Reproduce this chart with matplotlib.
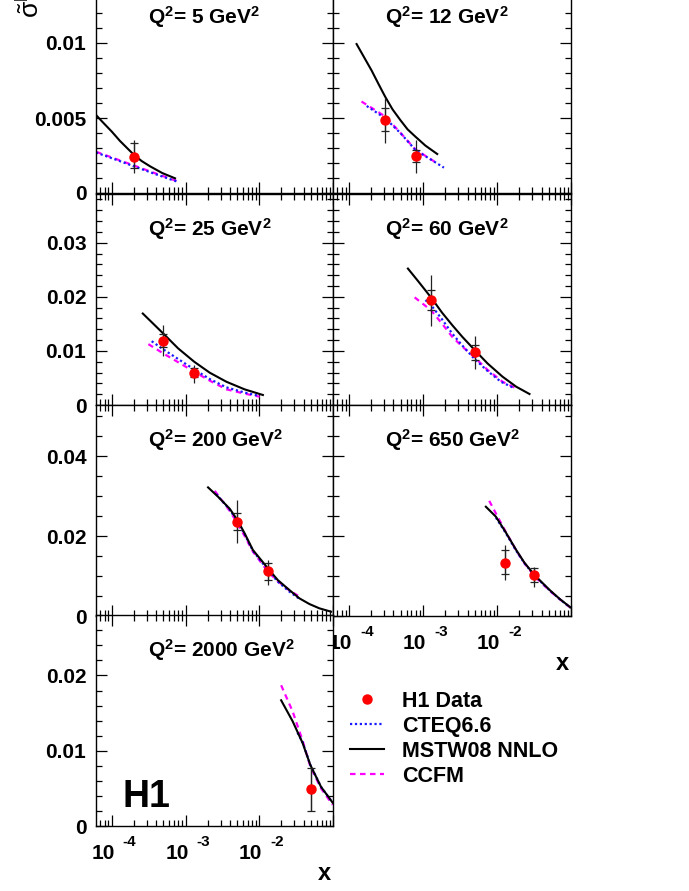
import numpy as np
import matplotlib
matplotlib.use("Agg")
import matplotlib.pyplot as plt
import matplotlib.transforms as mtrans
from matplotlib.ticker import MultipleLocator, NullFormatter, FixedLocator
from matplotlib.lines import Line2D

plt.rcParams['font.family'] = ['Liberation Sans', 'DejaVu Sans']
plt.rcParams['font.weight'] = 'bold'
plt.rcParams['mathtext.default'] = 'regular'

# panel titles, Q^2 in GeV^2
q2_values = ['5', '12', '25', '60', '200', '650', '2000']
panel_pos = [(0, 0), (0, 1), (1, 0), (1, 1), (2, 0), (2, 1), (3, 0)]

# y axis per row
row_ymax = [0.0141, 0.0391, 0.0529, 0.0281]
row_yticks = [[0, 0.005, 0.01], [0, 0.01, 0.02, 0.03], [0, 0.02, 0.04], [0, 0.01, 0.02]]
row_ylabels = [['0', '0.005', '0.01'], ['0', '0.01', '0.02', '0.03'],
               ['0', '0.02', '0.04'], ['0', '0.01', '0.02']]
row_yminor = [0.001, 0.002, 0.005, 0.002]
x_exps = [-4, -3, -2]

# H1 data: x, value, stat error ends, total error ends
h1_x = [[2e-4], [3.1e-4, 8e-4], [5e-4, 1.3e-3], [1.3e-3, 5e-3],
        [5e-3, 1.3e-2], [1.3e-2, 3.2e-2], [5e-2]]
h1_y = [[0.00242], [0.00487, 0.00247], [0.01186, 0.00596], [0.0194, 0.00972],
        [0.02358, 0.01133], [0.0133, 0.01025], [0.0049]]
stat_lo = [[0.00165], [0.0041, 0.00205], [0.01076, 0.0051], [0.0175, 0.0084],
           [0.0215, 0.009], [0.0105, 0.0086], [0.00204]]
stat_hi = [[0.00335], [0.00565, 0.00287], [0.0131, 0.0069], [0.0212, 0.0111],
           [0.0257, 0.0132], [0.0165, 0.0119], [0.0077]]
tot_lo = [[0.00133], [0.0033, 0.00135], [0.00904, 0.0040], [0.01457, 0.0066],
          [0.0182, 0.00775], [0.009, 0.0073], [0.00204]]
tot_hi = [[0.00353], [0.0063, 0.00353], [0.01476, 0.00738], [0.024, 0.0127],
          [0.029, 0.014], [0.01775, 0.0123], [0.0077]]

# MSTW08 NNLO
mstw_x = [[6.1e-5, 7.7e-5, 1e-4, 1.29e-4, 1.96e-4, 2.54e-4, 3.3e-4, 4.83e-4, 7.2e-4],
          [1.27e-4, 1.57e-4, 2.03e-4, 2.51e-4, 3.09e-4, 3.88e-4, 4.94e-4, 6.21e-4,
           7.9e-4, 1.08e-3, 1.56e-3],
          [2.63e-4, 3.47e-4, 4.98e-4, 7.94e-4, 1.31e-3, 2.13e-3, 3.58e-3, 6.33e-3, 1.12e-2],
          [6.27e-4, 8.77e-4, 1.29e-3, 1.82e-3, 2.49e-3, 3.4e-3, 4.91e-3, 7.45e-3,
           1.19e-2, 1.82e-2, 2.75e-2],
          [2.02e-3, 2.76e-3, 3.97e-3, 5.05e-3, 6.33e-3, 8.2e-3, 1.31e-2, 1.78e-2,
           2.56e-2, 3.5e-2, 4.78e-2, 6.53e-2, 9.4e-2],
          [7.08e-3, 9.68e-3, 1.3e-2, 1.82e-2, 2.35e-2, 3.21e-2, 5.15e-2, 7.05e-2, 9.8e-2],
          [1.98e-2, 2.84e-2, 3.88e-2, 4.93e-2, 6.88e-2, 9.9e-2]]
mstw_y = [[0.0052, 0.00467, 0.00409, 0.00347, 0.00258, 0.00213, 0.00178, 0.00133, 0.00098],
          [0.00993, 0.00913, 0.00816, 0.00727, 0.00642, 0.00558, 0.00487, 0.00424,
           0.00376, 0.00316, 0.0026],
          [0.01691, 0.01531, 0.01322, 0.01046, 0.0080, 0.00597, 0.0043, 0.00289, 0.00185],
          [0.02522, 0.02276, 0.01986, 0.01704, 0.01476, 0.01261, 0.01027, 0.00769,
           0.00523, 0.00338, 0.00203],
          [0.03217, 0.02983, 0.02683, 0.024, 0.02067, 0.0165, 0.01192, 0.009,
           0.0065, 0.00442, 0.003, 0.00192, 0.00108],
          [0.02733, 0.02483, 0.02108, 0.0165, 0.01333, 0.01025, 0.0065, 0.00425, 0.00217],
          [0.0167, 0.0139, 0.0110, 0.0081, 0.0052, 0.0031]]

# CTEQ6.6
cteq_x = [[6.1e-5, 1e-4, 2e-4, 4e-4, 8.1e-4],
          [1.74e-4, 3.1e-4, 5e-4, 7.9e-4, 1.92e-3],
          [3.47e-4, 5e-4, 1.31e-3, 2.13e-3, 3.58e-3, 6.33e-3, 1.01e-2],
          [1.08e-3, 1.29e-3, 1.82e-3, 2.49e-3, 3.4e-3, 4.91e-3, 7.45e-3, 1.13e-2, 1.72e-2],
          [2.6e-3, 3.97e-3, 5.05e-3, 6.33e-3, 8.2e-3, 1.31e-2, 1.78e-2, 2.56e-2, 3.5e-2],
          [9.68e-3, 1.3e-2, 1.82e-2, 2.35e-2, 3.21e-2, 5.15e-2, 7.05e-2, 9.8e-2],
          [3.3e-2, 3.88e-2, 4.93e-2, 6.88e-2, 9.9e-2]]
cteq_y = [[0.0027, 0.00232, 0.00178, 0.00124, 0.00072],
          [0.0058, 0.00498, 0.00398, 0.00287, 0.00169],
          [0.0118, 0.01027, 0.00658, 0.0048, 0.00326, 0.0023, 0.00166],
          [0.0194, 0.01845, 0.0158, 0.0132, 0.0110, 0.0086, 0.0063, 0.0043, 0.0031],
          [0.0305, 0.0266, 0.0237, 0.0204, 0.0163, 0.0115, 0.0086, 0.0061, 0.0043],
          [0.0246, 0.0209, 0.0163, 0.0132, 0.0101, 0.0064, 0.0042, 0.0021],
          [0.0124, 0.0111, 0.0081, 0.0052, 0.0031]]

# CCFM
ccfm_x = [[6.1e-5, 1e-4, 2e-4, 4e-4, 7.8e-4],
          [1.48e-4, 3.1e-4, 5e-4, 7.9e-4, 1.56e-3],
          [3.13e-4, 5e-4, 1.31e-3, 2.13e-3, 3.58e-3, 6.33e-3, 1.01e-2],
          [7.73e-4, 1.29e-3, 1.82e-3, 2.49e-3, 3.4e-3, 4.91e-3, 7.45e-3, 1.19e-2, 1.9e-2],
          [2.49e-3, 3.97e-3, 5.05e-3, 6.33e-3, 8.2e-3, 1.31e-2, 1.78e-2, 2.56e-2, 3.7e-2],
          [7.86e-3, 1.3e-2, 1.82e-2, 2.35e-2, 3.21e-2, 5.15e-2, 7.05e-2, 9.8e-2],
          [1.98e-2, 2.84e-2, 3.88e-2, 4.93e-2, 6.88e-2, 9.9e-2]]
ccfm_y = [[0.00275, 0.00237, 0.00183, 0.00129, 0.00078],
          [0.0061, 0.0051, 0.0040, 0.0029, 0.00198],
          [0.01125, 0.00953, 0.00615, 0.0045, 0.0029, 0.0021, 0.00154],
          [0.0199, 0.0175, 0.0150, 0.0126, 0.0108, 0.0089, 0.0065, 0.0043, 0.00295],
          [0.0313, 0.0263, 0.0232, 0.0200, 0.0161, 0.0111, 0.0087, 0.0064, 0.0046],
          [0.0288, 0.0212, 0.0164, 0.0132, 0.0100, 0.0063, 0.0042, 0.0021],
          [0.0187, 0.0152, 0.0113, 0.0079, 0.0050, 0.0028]]

W, H = 689, 891
fig = plt.figure(figsize=(W / 100, H / 100), dpi=100)

col_left = [96, 333]
col_width = [237, 238]
row_bottom = [193, 405, 616, 826]
row_height = 211.5

FS = 15

# log minor ticks 2..9 in every decade
x_minor = [k * 10.0 ** e for e in range(-5, 0) for k in range(2, 10)]


def x_tick_labels(ax):
    trans = mtrans.blended_transform_factory(ax.transData, ax.transAxes)
    for e in x_exps:
        t1 = mtrans.offset_copy(trans, fig=fig, x=3, y=-18, units='dots')
        ax.text(10.0 ** e, 0, '10', transform=t1, ha='right', va='top', fontsize=15)
        t2 = mtrans.offset_copy(trans, fig=fig, x=11, y=-9, units='dots')
        ax.text(10.0 ** e, 0, '-%d' % (-e), transform=t2, ha='left', va='top', fontsize=11)


for i, (r, c) in enumerate(panel_pos):
    rect = [col_left[c] / W, 1 - row_bottom[r] / H, col_width[c] / W, row_height / H]
    ax = fig.add_axes(rect)
    ax.set_xscale('log')
    ax.set_xlim(6.1e-5, 0.1)
    ax.set_ylim(0, row_ymax[r])

    ax.plot(ccfm_x[i], ccfm_y[i], color='#ff00ff', lw=1.6, ls=(0, (2.5, 2)))
    ax.plot(cteq_x[i], cteq_y[i], color='#1a1aff', lw=1.6, ls=(0, (1, 1.2)))
    ax.plot(mstw_x[i], mstw_y[i], color='black', lw=1.5)

    y = np.array(h1_y[i])
    ax.errorbar(h1_x[i], y, yerr=[y - np.array(tot_lo[i]), np.array(tot_hi[i]) - y],
                fmt='none', ecolor='#222222', elinewidth=0.9, capsize=0)
    ax.errorbar(h1_x[i], y, yerr=[y - np.array(stat_lo[i]), np.array(stat_hi[i]) - y],
                fmt='none', ecolor='#222222', elinewidth=0.9, capsize=3.2, capthick=0.9)
    ax.plot(h1_x[i], y, 'o', color='red', ms=6.5, mec='red', zorder=5)

    ax.set_yticks(row_yticks[r], row_ylabels[r] if c == 0 else [])
    ax.yaxis.set_minor_locator(MultipleLocator(row_yminor[r]))
    ax.set_xticks([10.0 ** e for e in range(-4, 0)], [])
    ax.xaxis.set_minor_locator(FixedLocator(x_minor))
    ax.xaxis.set_minor_formatter(NullFormatter())
    ax.tick_params(which='both', direction='in', top=True, right=True, width=0.9,
                   labelsize=FS, pad=7)
    ax.tick_params(which='major', length=8)
    ax.tick_params(which='minor', length=4.5)
    for s in ax.spines.values():
        s.set_linewidth(1.0)

    ax.text(0.22, 0.80, 'Q$^{2}$= %s GeV$^{2}$' % q2_values[i], transform=ax.transAxes,
            ha='left', va='baseline', fontsize=15)

    if (r, c) in [(3, 0), (2, 1)]:
        x_tick_labels(ax)
        ax.text(0.99, -0.17, 'x', transform=ax.transAxes, ha='right', va='top', fontsize=17)
    if (r, c) == (3, 0):
        ax.text(0.11, 0.09, 'H1', transform=ax.transAxes, ha='left', va='baseline',
                fontsize=27)

fig.text(0.041, 1 - 18 / H, r'$\tilde{\sigma}^{b\bar{b}}$', rotation=90, ha='center',
         va='bottom', fontsize=19, fontweight='normal')

handles = [Line2D([], [], marker='o', color='red', ls='none', ms=6.5),
           Line2D([], [], color='#1a1aff', lw=1.6, ls=(0, (1, 1.2))),
           Line2D([], [], color='black', lw=1.5),
           Line2D([], [], color='#ff00ff', lw=1.6, ls=(0, (2.5, 2)))]
labels = ['H1 Data', 'CTEQ6.6', 'MSTW08 NNLO', 'CCFM']
fig.legend(handles, labels, loc='upper left', bbox_to_anchor=(350 / W, 1 - 691 / H),
           frameon=False, fontsize=15.5, handlelength=1.6, handletextpad=0.8,
           labelspacing=0.18, borderpad=0, borderaxespad=0)

fig.savefig('out.png', dpi=100)
